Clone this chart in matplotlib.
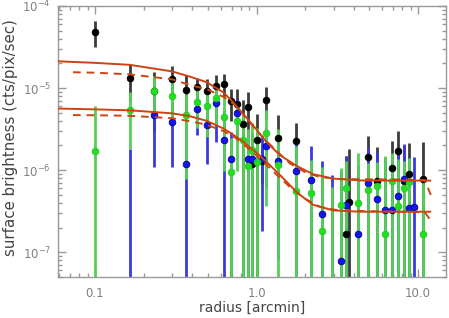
import numpy as np
import matplotlib
matplotlib.use('Agg')
import matplotlib.pyplot as plt
from matplotlib.ticker import FixedLocator, LogLocator, NullFormatter

# black profile
r_blk = [0.100, 0.164, 0.231, 0.299, 0.365, 0.427, 0.491, 0.559, 0.625, 0.692,
         0.759, 0.821, 0.888, 0.944, 1.014, 1.081, 1.148, 1.367, 1.766, 3.59,
         3.75, 4.91, 5.56, 6.88, 7.53, 8.20, 8.80, 10.8]
s_blk = [4.86e-5, 1.32e-5, 9.2e-6, 1.28e-5, 9.46e-6, 1.03e-5, 9.33e-6, 1.06e-5, 1.12e-5, 6.88e-6,
         6.33e-6, 3.63e-6, 5.90e-6, 1.18e-6, 2.36e-6, 1.28e-6, 7.23e-6, 2.46e-6, 2.24e-6, 1.69e-7,
         4.11e-7, 1.44e-6, 7.37e-7, 1.07e-6, 1.69e-6, 7.37e-7, 8.95e-7, 7.9e-7]
e_blk = [1.7e-5, 6.2e-6, 6.3e-6, 5.6e-6, 5.0e-6, 3.0e-6, 3.6e-6, 3.9e-6, 3.7e-6, 2.9e-6,
         3.3e-6, 3.5e-6, 3.0e-6, 5e-7, 2.5e-6, 6e-7, 3.1e-6, 2.3e-6, 1.5e-6, 1.3e-6,
         1.4e-6, 1.2e-6, 1.2e-6, 1.2e-6, 1.3e-6, 1.26e-6, 1.24e-6, 1.4e-6]

# green profile
r_grn = [0.100, 0.164, 0.231, 0.299, 0.365, 0.427, 0.491, 0.559, 0.625, 0.692,
         0.759, 0.821, 0.888, 0.944, 1.014, 1.148, 1.367, 1.766, 2.17, 2.55,
         2.92, 3.33, 3.59, 4.25, 4.91, 5.56, 6.21, 6.88, 7.53, 8.20, 8.80, 10.8]
s_grn = [1.69e-6, 5.39e-6, 9.2e-6, 7.9e-6, 4.69e-6, 6.78e-6, 6.07e-6, 7.58e-6, 4.48e-6, 9.46e-7,
         3.97e-6, 2.36e-6, 1.14e-6, 1.77e-6, 1.25e-6, 2.87e-6, 1.15e-6, 5.58e-7, 5.28e-7, 1.82e-7,
         2e-8, 3.76e-7, 5.99e-7, 4.0e-7, 5.74e-7, 6.42e-7, 1.69e-7, 7.37e-7, 3.68e-7, 5.99e-7, 7.17e-7, 1.69e-7]
e_grn = [4.4e-6, 3.6e-6, 4.7e-6, 4.0e-6, 3.9e-6, 3.5e-6, 3.5e-6, 4.0e-6, 3.5e-6, 1.5e-6,
         3.0e-6, 2.5e-6, 2.0e-6, 2.0e-6, 2.0e-6, 2.5e-6, 2.0e-6, 1.4e-6, 8e-7, 9e-7,
         6e-7, 7e-7, 7e-7, 1.2e-6, 6.5e-7, 6e-7, 1.3e-6, 9e-7, 1.0e-6, 7e-7, 7e-7, 6e-7]

# blue profile
r_blu = [0.164, 0.231, 0.299, 0.365, 0.427, 0.491, 0.559, 0.625, 0.692, 0.759,
         0.821, 0.888, 0.944, 1.081, 1.148, 1.367, 1.766, 2.17, 2.55, 2.92,
         3.33, 3.59, 4.25, 4.91, 5.56, 6.21, 6.88, 7.53, 8.20, 8.80, 9.44]
s_blu = [2e-8, 4.69e-6, 3.89e-6, 1.18e-6, 5.51e-6, 3.58e-6, 6.60e-6, 2.36e-6, 1.38e-6, 4.93e-6,
         2e-8, 1.35e-6, 1.35e-6, 1.38e-6, 1.96e-6, 1.28e-6, 9.7e-7, 7.58e-7, 2.91e-7, 2e-8,
         7.9e-8, 3.76e-7, 1.65e-7, 6.92e-7, 4.48e-7, 3.27e-7, 3.27e-7, 4.86e-7, 7.8e-7, 3.42e-7, 3.58e-7]
e_blu = [1.77e-6, 3.6e-6, 2.8e-6, 3.0e-6, 2.8e-6, 2.4e-6, 4.4e-6, 3.0e-6, 1.5e-6, 2.5e-6,
         7e-7, 1.6e-6, 1.5e-6, 1.2e-6, 1.35e-6, 1.2e-6, 1.3e-6, 1.2e-6, 1.0e-6, 8.5e-7,
         9e-7, 1.1e-6, 1.0e-6, 1.2e-6, 1.2e-6, 1.1e-6, 1.1e-6, 1.2e-6, 1.3e-6, 1.1e-6, 1.1e-6]

# model curves
r_fit = [0.059, 0.1, 0.164, 0.299, 0.387, 0.491, 0.625, 0.714, 0.825, 0.951,
         1.05, 1.16, 1.40, 1.78, 2.24, 2.98, 4.38, 7.74, 11.9]
fit_hi = [2.12e-5, 2.03e-5, 1.92e-5, 1.60e-5, 1.38e-5, 1.18e-5, 8.83e-6, 6.78e-6, 4.86e-6, 3.53e-6,
          2.75e-6, 2.17e-6, 1.52e-6, 1.12e-6, 8.95e-7, 7.9e-7, 7.5e-7, 7.46e-7, 7.46e-7]
fit_lo = [5.63e-6, 5.51e-6, 5.36e-6, 4.93e-6, 4.54e-6, 4.0e-6, 3.21e-6, 2.72e-6, 2.24e-6, 1.77e-6,
          1.50e-6, 1.25e-6, 8.7e-7, 5.36e-7, 3.79e-7, 3.24e-7, 3.12e-7, 3.12e-7, 3.12e-7]
r_dsh = [0.073, 0.1, 0.164, 0.299, 0.387, 0.491, 0.625, 0.736, 0.849, 0.979,
         1.13, 1.30, 1.61, 2.0, 2.47, 3.29, 7.74, 11.0, 12.0]
dsh_hi = [1.56e-5, 1.54e-5, 1.47e-5, 1.28e-5, 1.09e-5, 9.73e-6, 7.8e-6, 6.24e-6, 4.48e-6, 3.21e-6,
          2.36e-6, 1.79e-6, 1.21e-6, 9.46e-7, 8.24e-7, 7.8e-7, 7.69e-7, 7.58e-7, 5.0e-7]
dsh_lo = [4.69e-6, 4.67e-6, 4.6e-6, 4.29e-6, 3.95e-6, 3.58e-6, 2.99e-6, 2.5e-6, 2.0e-6, 1.56e-6,
          1.21e-6, 9.2e-7, 6.24e-7, 4.48e-7, 3.58e-7, 3.21e-7, 3.12e-7, 3.08e-7, 2.43e-7]

fig = plt.figure(figsize=(4.49, 3.18), dpi=100)
ax = fig.add_axes([58/449, 1-277/318, 388/449, 271/318])
ax.set_xscale('log')
ax.set_yscale('log')

sets = [(r_blk, s_blk, e_blk, '#3c3c3c', 'black', 'black'),
        (r_blu, s_blu, e_blu, '#3a3ae0', '#1414f0', '#000090'),
        (r_grn, s_grn, e_grn, '#55d055', '#22dd22', '#22cc22')]

for r, s, e, bc, mc, ec in sets:
    s = np.array(s)
    e = np.array(e)
    low = np.minimum(e, s - 1e-12)
    ax.errorbar(r, s, yerr=[low, e], fmt='none', ecolor=bc, elinewidth=2.0, capsize=0, zorder=2)
for r, s, e, bc, mc, ec in sets:
    ax.plot(r, s, 'o', ms=4.8, mfc=mc, mec=ec, mew=0.6, zorder=3)

orng = '#cc4411'
ax.plot(r_fit, fit_hi, '-', color=orng, lw=1.4, zorder=4)
ax.plot(r_fit, fit_lo, '-', color=orng, lw=1.4, zorder=4)
ax.plot(r_dsh, dsh_hi, '--', color=orng, lw=1.4, dashes=(4, 3), zorder=4)
ax.plot(r_dsh, dsh_lo, '--', color=orng, lw=1.4, dashes=(4, 3), zorder=4)

ax.set_xlim(0.059, 14.9)
ax.set_ylim(5e-8, 1e-4)

gray = '#999999'
for sp in ax.spines.values():
    sp.set_color(gray)
    sp.set_linewidth(1.0)

ax.xaxis.set_major_locator(FixedLocator([0.1, 1.0, 10.0]))
ax.set_xticklabels(['0.1', '1.0', '10.0'])
ax.xaxis.set_minor_locator(LogLocator(base=10, subs=np.arange(2, 10)))
ax.xaxis.set_minor_formatter(NullFormatter())
ax.yaxis.set_major_locator(FixedLocator([1e-7, 1e-6, 1e-5, 1e-4]))
ax.set_yticklabels(['$10^{-7}$', '$10^{-6}$', '$10^{-5}$', '$10^{-4}$'])
ax.yaxis.set_minor_locator(LogLocator(base=10, subs=np.arange(2, 10)))
ax.yaxis.set_minor_formatter(NullFormatter())

ax.tick_params(which='both', direction='in', top=True, right=True, color=gray,
               labelcolor='#808080', labelsize=8.5)
ax.tick_params(which='major', length=6, width=1)
ax.tick_params(which='minor', length=3, width=1)
ax.tick_params(axis='x', pad=7)
ax.tick_params(axis='y', pad=5)
for lab in ax.get_yticklabels():
    lab.set_verticalalignment('center_baseline')

fig.text(252/449, 1-308/318, 'radius [arcmin]', ha='center', va='center',
         fontsize=10, color='#444444')
fig.text(11/449, 1-138/318, 'surface brightness (cts/pix/sec)', ha='center', va='center',
         rotation=90, fontsize=10.8, color='#444444')

fig.savefig('out.png', dpi=100)
